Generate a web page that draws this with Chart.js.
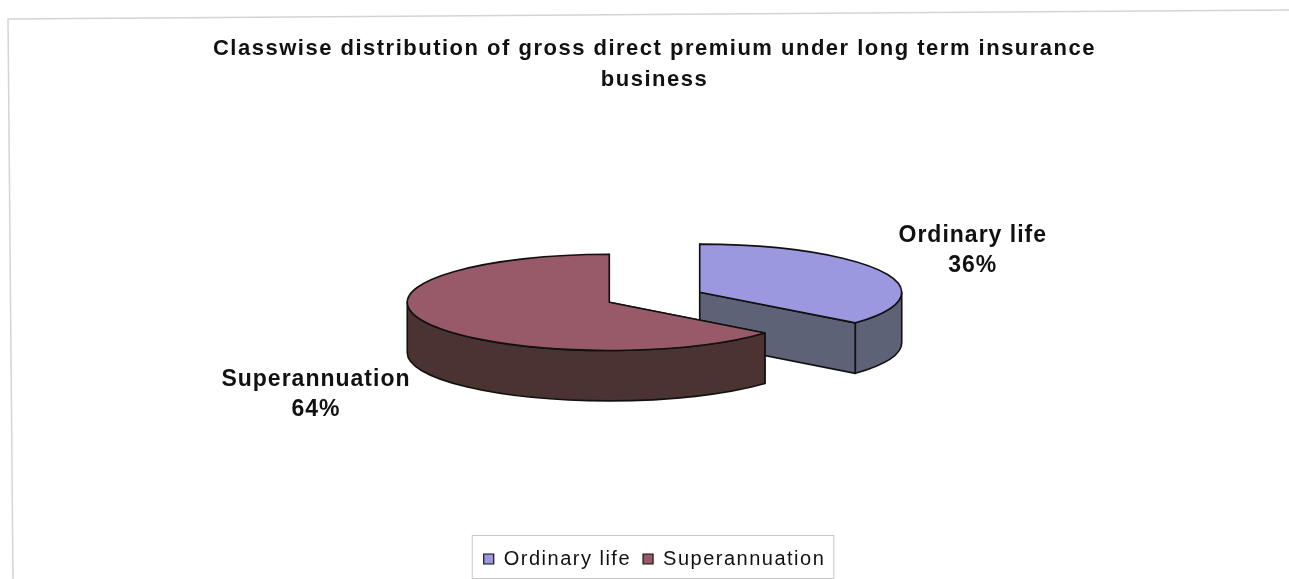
<!DOCTYPE html>
<html>
<head>
<meta charset="utf-8">
<script src="https://cdn.jsdelivr.net/npm/chart.js@4.4.0/dist/chart.umd.min.js"></script>
<style>
  html, body { margin: 0; padding: 0; background: #fff; }
  #wrap { width: 1289px; height: 579px; }
</style>
</head>
<body>
<div id="wrap"><canvas id="pieChart" width="1289" height="579"></canvas></div>
<script>
// data
const categories = ["Ordinary life", "Superannuation"];
const shares = [36, 64];
const titleLines = [
  "Classwise distribution of gross direct premium under long term insurance",
  "business"
];

// look of the fake 3D pie
const topColors = ["#9b98e0", "#985a68"];
const sideColors = ["#5e6276", "#4b3331"];
const TILT = 0.238;   // ellipse ry / rx
const DEPTH = 0.25;   // wall height / rx
const FONT = "'Liberation Sans', Arial, sans-serif";

// works out the ellipse pieces from the arc elements Chart.js laid out
function slicesOf(chart) {
  const meta = chart.getDatasetMeta(0);
  const raw = meta.data.map((arc, i) => {
    const p = arc.getProps(["x", "y", "startAngle", "endAngle", "outerRadius"], true);
    const mid = (p.startAngle + p.endAngle) / 2;
    const off = arc.options.offset || 0;
    const rx = p.outerRadius;
    return {
      i, mid, rx, ry: rx * TILT, h: rx * DEPTH,
      a0: p.startAngle, a1: p.endAngle,
      cx: p.x + Math.cos(mid) * off,
      cy: p.y + Math.sin(mid) * off * TILT,
      x0: p.x, y0: p.y
    };
  });
  // centre the whole exploded block (top face + walls) on the chart centre
  let minX = Infinity, maxX = -Infinity, minY = Infinity, maxY = -Infinity;
  raw.forEach(s => {
    const pts = [[s.cx, s.cy]];
    for (let k = 0; k <= 120; k++) {
      const a = s.a0 + (s.a1 - s.a0) * k / 120;
      pts.push([s.cx + Math.cos(a) * s.rx, s.cy + Math.sin(a) * s.ry]);
    }
    pts.forEach(([x, y]) => {
      minX = Math.min(minX, x); maxX = Math.max(maxX, x);
      minY = Math.min(minY, y); maxY = Math.max(maxY, y + s.h);
    });
  });
  const sx = raw[0].x0 - (minX + maxX) / 2;
  const sy = raw[0].y0 - (minY + maxY) / 2;
  raw.forEach(s => { s.cx += sx; s.cy += sy; });
  return raw;
}

const pie3d = {
  id: "pie3d",
  beforeUpdate(chart) { chart.ctx.letterSpacing = "1.5px"; },
  beforeDraw(chart) {
    const ctx = chart.ctx;
    ctx.letterSpacing = "1.5px";
    // faint frame of the scanned chart box
    ctx.save();
    ctx.strokeStyle = "#d4d4d4";
    ctx.lineWidth = 1.5;
    ctx.beginPath();
    ctx.moveTo(13, 579);
    ctx.lineTo(8, 19);
    ctx.lineTo(1289, 10);
    ctx.stroke();
    ctx.restore();
  },
  beforeDatasetsDraw(chart) {
    const ctx = chart.ctx;
    const pieces = slicesOf(chart);
    // paint the slices that sit further back first
    pieces.sort((a, b) => (a.cy + Math.sin(a.mid) * a.ry) - (b.cy + Math.sin(b.mid) * b.ry));
    ctx.save();
    ctx.lineWidth = 1.6;
    ctx.strokeStyle = "#111";
    ctx.lineJoin = "round";
    pieces.forEach(s => {
      const side = sideColors[s.i];
      // cut faces along both radii
      [s.a0, s.a1].forEach(a => {
        const ex = s.cx + Math.cos(a) * s.rx, ey = s.cy + Math.sin(a) * s.ry;
        ctx.beginPath();
        ctx.moveTo(s.cx, s.cy);
        ctx.lineTo(ex, ey);
        ctx.lineTo(ex, ey + s.h);
        ctx.lineTo(s.cx, s.cy + s.h);
        ctx.closePath();
        ctx.fillStyle = side;
        ctx.fill();
        ctx.stroke();
      });
      // curved outer wall, only the part facing the viewer
      for (let k = -1; k <= 1; k++) {
        const lo = Math.max(s.a0, 2 * Math.PI * k);
        const hi = Math.min(s.a1, Math.PI + 2 * Math.PI * k);
        if (hi <= lo) continue;
        ctx.beginPath();
        ctx.ellipse(s.cx, s.cy, s.rx, s.ry, 0, lo, hi);
        ctx.ellipse(s.cx, s.cy + s.h, s.rx, s.ry, 0, hi, lo, true);
        ctx.closePath();
        ctx.fillStyle = side;
        ctx.fill();
        ctx.stroke();
      }
      // top face
      ctx.beginPath();
      ctx.moveTo(s.cx, s.cy);
      ctx.ellipse(s.cx, s.cy, s.rx, s.ry, 0, s.a0, s.a1);
      ctx.closePath();
      ctx.fillStyle = topColors[s.i];
      ctx.fill();
      ctx.stroke();
    });
    ctx.restore();
    return false;
  },
  afterDraw(chart) {
    const ctx = chart.ctx;
    const total = shares.reduce((a, b) => a + b, 0);
    ctx.save();
    ctx.letterSpacing = "1px";
    ctx.font = "bold 23px " + FONT;
    ctx.fillStyle = "#111";
    ctx.textAlign = "center";
    ctx.textBaseline = "middle";
    slicesOf(chart).forEach(s => {
      const c = Math.cos(s.mid), sn = Math.sin(s.mid);
      const ex = s.cx + c * s.rx;
      const ey = s.cy + sn * s.ry + (sn > 0 ? s.h : 0);
      const name = categories[s.i];
      const pct = Math.round(shares[s.i] / total * 100) + "%";
      const w = Math.max(ctx.measureText(name).width, ctx.measureText(pct).width);
      const lx = ex + Math.sign(c) * (w / 2 + 16);
      const ly = ey + sn * 49;
      ctx.fillText(name, lx, ly - 15);
      ctx.fillText(pct, lx, ly + 15);
    });
    // box round the legend
    const boxes = chart.legend.legendHitBoxes;
    if (boxes && boxes.length) {
      const first = boxes[0], last = boxes[boxes.length - 1];
      ctx.strokeStyle = "#c8c8c8";
      ctx.lineWidth = 1;
      ctx.strokeRect(first.left - 11.5, 535.5, last.left + last.width - first.left + 20, 43);
    }
    ctx.restore();
  }
};

new Chart(document.getElementById("pieChart"), {
  type: "pie",
  data: {
    labels: categories,
    datasets: [{
      data: shares,
      backgroundColor: topColors,
      borderColor: "#111",
      borderWidth: 1.2,
      offset: [100, 0]
    }]
  },
  options: {
    responsive: false,
    animation: false,
    events: [],
    devicePixelRatio: 1,
    radius: 202,
    layout: { padding: { left: 20, right: 0, top: 0, bottom: 0 } },
    plugins: {
      title: {
        display: true,
        text: titleLines,
        color: "#111",
        font: { family: FONT, size: 22, weight: "bold", lineHeight: 1.41 },
        padding: { top: 33, bottom: 13 }
      },
      legend: {
        display: true,
        position: "bottom",
        labels: {
          color: "#111",
          font: { family: FONT, size: 20 },
          boxWidth: 10,
          boxHeight: 10,
          padding: 12
        }
      },
      tooltip: { enabled: false }
    }
  },
  plugins: [pie3d]
});
</script>
</body>
</html>
